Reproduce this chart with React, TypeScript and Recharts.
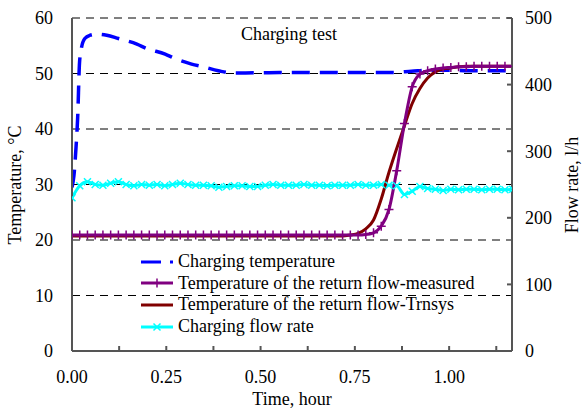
import React from 'react';
import { LineChart, Line, XAxis, YAxis, CartesianGrid, Legend } from 'recharts';

// time grid of the logged return-flow data, hours
const timeHours = [
  0, 0.0205, 0.041, 0.0615, 0.082, 0.1025, 0.123, 0.1435, 0.164, 0.1845,
  0.205, 0.2255, 0.246, 0.2665, 0.287, 0.3075, 0.328, 0.3485, 0.369, 0.3895,
  0.41, 0.4305, 0.451, 0.4715, 0.492, 0.5125, 0.533, 0.5535, 0.574, 0.5945,
  0.615, 0.6355, 0.656, 0.6765, 0.697, 0.7175, 0.738, 0.7585, 0.779, 0.7995,
  0.82, 0.8405, 0.861, 0.8815, 0.902, 0.9225, 0.943, 0.9635, 0.984, 1.0045,
  1.025, 1.0455, 1.066, 1.0865, 1.107, 1.1275, 1.148, 1.1685,
];

const measuredReturn = [
  20.9, 20.9, 20.9, 20.9, 20.9, 20.9, 20.9, 20.9, 20.9, 20.9,
  20.9, 20.9, 20.9, 20.9, 20.9, 20.9, 20.9, 20.9, 20.9, 20.9,
  20.9, 20.9, 20.9, 20.9, 20.9, 20.9, 20.9, 20.9, 20.9, 20.9,
  20.9, 20.9, 20.9, 20.9, 20.9, 20.9, 20.9, 20.9, 21.0, 21.3,
  22.5, 25.5, 32.5, 41.0, 47.6, 49.9, 50.5, 50.8, 51.0, 51.1,
  51.2, 51.2, 51.3, 51.3, 51.3, 51.3, 51.3, 51.3,
];

const trnsysReturn = [
  20.7, 20.7, 20.7, 20.7, 20.7, 20.7, 20.7, 20.7, 20.7, 20.7,
  20.7, 20.7, 20.7, 20.7, 20.7, 20.7, 20.7, 20.7, 20.7, 20.7,
  20.7, 20.7, 20.7, 20.7, 20.7, 20.7, 20.7, 20.7, 20.7, 20.7,
  20.7, 20.7, 20.7, 20.7, 20.7, 20.7, 20.9, 21.2, 22.0, 23.6,
  27.4, 32.2, 36.5, 40.6, 44.6, 47.3, 49.2, 50.3, 50.8, 51.0,
  51.2, 51.3, 51.3, 51.3, 51.3, 51.3, 51.3, 51.3,
];

const flowRate = [
  230, 248, 254, 250, 249, 252, 254, 250, 248, 250,
  249, 250, 248, 250, 252, 250, 249, 249, 248, 246,
  247, 248, 248, 247, 247, 249, 250, 249, 249, 249,
  250, 249, 249, 248, 249, 249, 249, 250, 249, 249,
  250, 249, 248, 235, 240, 247, 244, 243, 241, 243,
  242, 243, 243, 242, 243, 243, 242, 243,
];

// charging (supply) temperature, own time points
const chargeTime = [
  0, 0.005, 0.01, 0.015, 0.02, 0.025, 0.034, 0.048, 0.065, 0.092,
  0.123, 0.172, 0.198, 0.247, 0.273, 0.317, 0.348, 0.388, 0.424, 0.46,
  0.55, 0.65, 0.75, 0.85, 0.9, 0.95, 1.0, 1.05, 1.1, 1.1667,
];
const chargeTemp = [
  29.5, 31.5, 36, 42, 52, 54.6, 56.3, 56.9, 57.1, 56.9,
  56.3, 55.3, 54.5, 53.5, 52.7, 51.7, 51.2, 50.5, 50.1, 50.1,
  50.2, 50.2, 50.2, 50.2, 50.4, 50.6, 50.6, 50.5, 50.5, 50.5,
];

const xTicks = [0, 0.125, 0.25, 0.375, 0.5, 0.625, 0.75, 0.875, 1, 1.125];
const tempTicks = [0, 10, 20, 30, 40, 50, 60];
const flowTicks = [0, 100, 200, 300, 400, 500];

const returnRows = timeHours.map((t, i) => ({
  t,
  measured: measuredReturn[i],
  trnsys: trnsysReturn[i],
  flow: flowRate[i],
}));
const chargeRows = chargeTime.map((t, i) => ({ t, temp: chargeTemp[i] }));

const FONT = '"Liberation Serif", "Times New Roman", serif';
const tickStyle = { fontFamily: FONT, fontSize: 18, fill: '#000' };
const axisStroke = { stroke: '#555', strokeWidth: 2 };

const PlusDot = (props: any) => {
  const { cx, cy, index } = props;
  if (cx == null || cy == null) return <g key={index} />;
  return (
    <path
      key={index}
      d={`M${cx - 4.5},${cy}h9M${cx},${cy - 4.5}v9`}
      stroke="#800080"
      strokeWidth={1.5}
      fill="none"
    />
  );
};

const CrossDot = (props: any) => {
  const { cx, cy, index } = props;
  if (cx == null || cy == null) return <g key={index} />;
  return (
    <path
      key={index}
      d={`M${cx - 3.5},${cy - 3.5}l7,7M${cx + 3.5},${cy - 3.5}l-7,7`}
      stroke="#00FFFF"
      strokeWidth={1.5}
      fill="none"
    />
  );
};

const legendItems = [
  { label: 'Charging temperature', color: '#0000FF', dash: '20 9', mark: '' },
  { label: 'Temperature of the return flow-measured', color: '#800080', dash: '', mark: 'plus' },
  { label: 'Temperature of the return flow-Trnsys', color: '#800000', dash: '', mark: '' },
  { label: 'Charging flow rate', color: '#00FFFF', dash: '', mark: 'cross' },
];

const LegendBox = () => (
  <div style={{ fontFamily: FONT, fontSize: 18, color: '#000' }}>
    {legendItems.map((item) => (
      <div key={item.label} style={{ display: 'flex', alignItems: 'center', height: 21.6 }}>
        <svg width={37} height={12} style={{ flex: 'none' }}>
          <line
            x1={0}
            y1={6}
            x2={32}
            y2={6}
            stroke={item.color}
            strokeWidth={3}
            strokeDasharray={item.dash || undefined}
          />
          {item.mark === 'plus' && (
            <path d="M11.5,6h9M16,1.5v9" stroke={item.color} strokeWidth={1.5} />
          )}
          {item.mark === 'cross' && (
            <path d="M12.5,2.5l7,7M19.5,2.5l-7,7" stroke={item.color} strokeWidth={1.5} />
          )}
        </svg>
        <span style={{ whiteSpace: 'nowrap', lineHeight: '21.6px' }}>{item.label}</span>
      </div>
    ))}
  </div>
);

export default function App() {
  return (
    <div style={{ position: 'absolute', left: 0, top: 0, width: 583, height: 410, background: '#fff' }}>
      <LineChart width={583} height={410} margin={{ top: 18, right: 0, bottom: 0, left: 12 }}>
        <CartesianGrid
          yAxisId="temp"
          vertical={false}
          stroke="#000"
          strokeDasharray="8 6"
        />
        <XAxis
          type="number"
          dataKey="t"
          domain={[0, 7 / 6]}
          allowDataOverflow
          ticks={xTicks}
          tickFormatter={(v: number) => (Math.round(v * 8) % 2 === 0 ? v.toFixed(2) : '')}
          tickSize={-5}
          tickMargin={24}
          tickLine={axisStroke}
          axisLine={axisStroke}
          tick={tickStyle}
          height={59}
          interval={0}
        />
        <YAxis
          yAxisId="temp"
          domain={[0, 60]}
          ticks={tempTicks}
          tickSize={0}
          tickMargin={19}
          tickLine={false}
          axisLine={axisStroke}
          tick={tickStyle}
          width={60}
          interval={0}
        />
        <YAxis
          yAxisId="flow"
          orientation="right"
          domain={[0, 500]}
          ticks={flowTicks}
          tickSize={-5}
          tickMargin={18}
          tickLine={axisStroke}
          axisLine={axisStroke}
          tick={{ ...tickStyle, textAnchor: 'start' }}
          width={71}
          interval={0}
        />
        <Legend
          layout="vertical"
          align="center"
          verticalAlign="middle"
          content={() => <LegendBox />}
          wrapperStyle={{ left: 141, top: 251, right: 'auto', bottom: 'auto', width: 360 }}
        />
        <Line
          yAxisId="flow"
          data={returnRows}
          dataKey="flow"
          name="Charging flow rate"
          type="monotone"
          stroke="#00FFFF"
          strokeWidth={3}
          dot={CrossDot}
          activeDot={false}
          isAnimationActive={false}
        />
        <Line
          yAxisId="temp"
          data={chargeRows}
          dataKey="temp"
          name="Charging temperature"
          type="monotone"
          stroke="#0000FF"
          strokeWidth={3.5}
          strokeDasharray="18 10"
          dot={false}
          activeDot={false}
          isAnimationActive={false}
        />
        <Line
          yAxisId="temp"
          data={returnRows}
          dataKey="trnsys"
          name="Temperature of the return flow-Trnsys"
          type="monotone"
          stroke="#800000"
          strokeWidth={3}
          dot={false}
          activeDot={false}
          isAnimationActive={false}
        />
        <Line
          yAxisId="temp"
          data={returnRows}
          dataKey="measured"
          name="Temperature of the return flow-measured"
          type="monotone"
          stroke="#800080"
          strokeWidth={3}
          dot={PlusDot}
          activeDot={false}
          isAnimationActive={false}
        />
      </LineChart>
      <svg
        width={583}
        height={410}
        style={{ position: 'absolute', left: 0, top: 0, pointerEvents: 'none' }}
        fontFamily={FONT}
        fontSize={18}
        fill="#000"
      >
        <text x={289} y={40} textAnchor="middle">Charging test</text>
        <text x={292} y={405} textAnchor="middle">Time, hour</text>
        <text x={21} y={185} textAnchor="middle" transform="rotate(-90 21 185)">Temperature, °C</text>
        <text x={578} y={185} textAnchor="middle" transform="rotate(-90 578 185)">Flow rate, l/h</text>
      </svg>
    </div>
  );
}
